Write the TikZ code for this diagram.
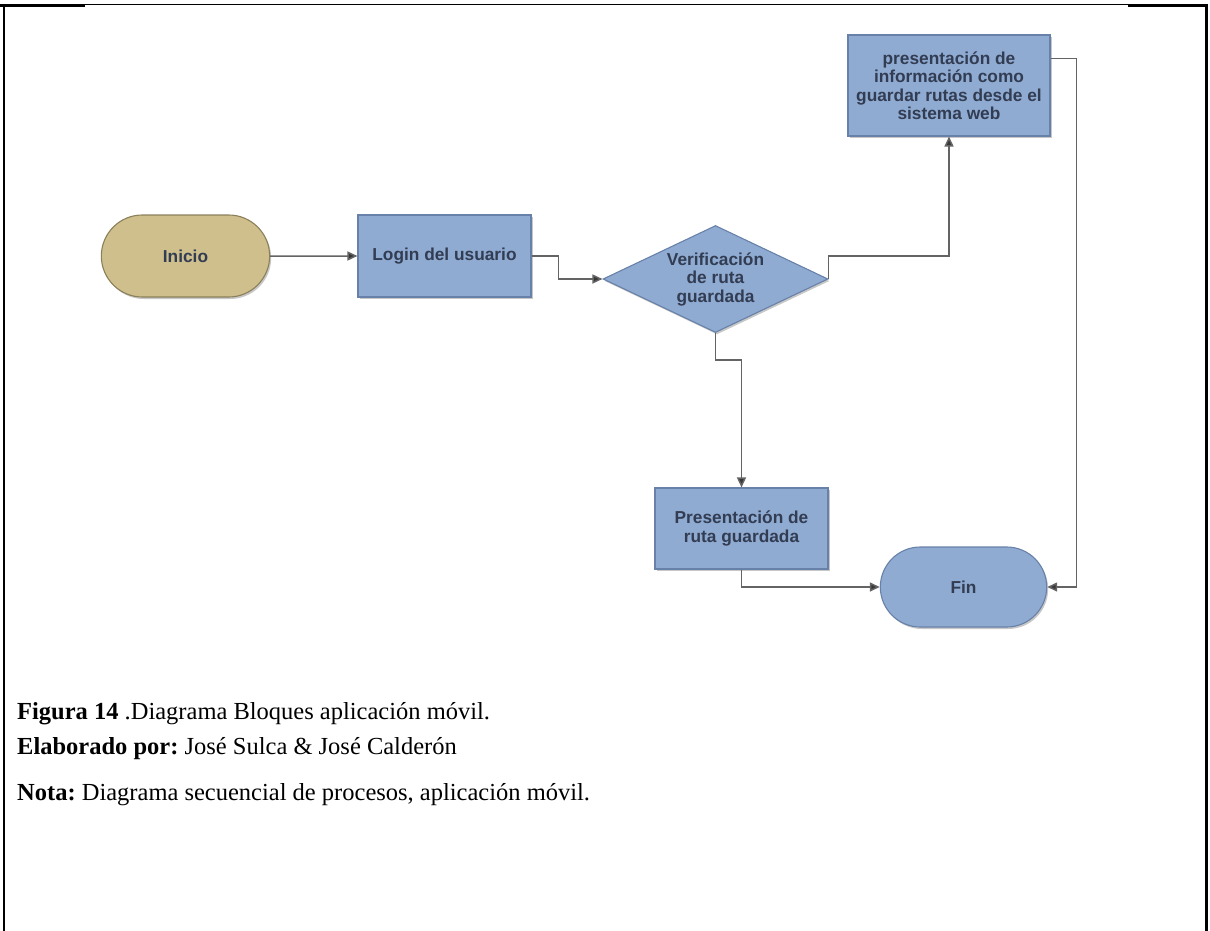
\documentclass[tikz,border=0pt]{standalone}
\usepackage{fontspec}
\setmainfont{Liberation Serif}
\newfontfamily\diagfont{Liberation Sans}
\usetikzlibrary{shapes.geometric,shapes.misc,arrows.meta,shadows,calc}

\definecolor{boxblue}{RGB}{143,171,210}
\definecolor{boxedge}{RGB}{104,129,168}
\definecolor{tanfill}{RGB}{207,191,140}
\definecolor{tanedge}{RGB}{140,128,90}
\definecolor{labeltext}{RGB}{50,60,82}
\definecolor{linkgray}{RGB}{100,100,100}
\definecolor{tipgray}{RGB}{55,55,55}

\tikzset{
  x=1pt, y=-1pt,
  softshadow/.style={drop shadow={shadow xshift=1.5pt, shadow yshift=-2pt, fill=black, opacity=0.22}},
  shapetext/.style={text=labeltext, align=center,
    font=\diagfont\bfseries\fontsize{17.3}{18.5}\selectfont},
  processbox/.style={rectangle, shapetext, fill=boxblue, draw=boxedge,
    line width=1.1pt, inner sep=2pt, softshadow},
  terminalblue/.style={rounded rectangle, shapetext, fill=boxblue, draw=boxedge,
    line width=1.1pt, minimum width=173pt, minimum height=80pt, softshadow},
  terminaltan/.style={rounded rectangle, shapetext, fill=tanfill, draw=tanedge,
    line width=1.1pt, minimum width=175pt, minimum height=82pt, softshadow},
  decision/.style={diamond, shapetext, fill=boxblue, draw=boxedge,
    line width=1.1pt, aspect=2.1, inner sep=0pt,
    minimum width=225pt, minimum height=107pt, softshadow},
  link/.style={draw=linkgray, line width=1.5pt,
    -{Triangle[length=10pt,width=9pt,fill=tipgray]}},
  caption/.style={anchor=base west, inner sep=0pt,
    font=\frenchspacing\fontsize{24.5}{28}\selectfont},
  frameline/.style={draw=black}
}

\begin{document}
\begin{tikzpicture}
\useasboundingbox (0,0) rectangle (1210,931);
\fill[white] (0,0) rectangle (1210,931);

% page frame
\draw[frameline, line width=3pt] (0,5.5) -- (85,5.5);
\draw[frameline, line width=1pt] (85,5) -- (1128,5);
\draw[frameline, line width=3pt] (1128,5.5) -- (1208,5.5);
\draw[frameline, line width=2pt] (3.7,4) -- (3.7,931);
\draw[frameline, line width=3pt] (1206.5,4) -- (1206.5,931);

% flow blocks
\node[terminaltan] (ini) at (185.5,256) {Inicio};
\node[processbox, minimum width=173pt, minimum height=82pt] (login) at (444.5,256) {Login del usuario};
\node[decision] (ver) at (715.5,279) {Verificación\\de ruta\\guardada};
\node[processbox, minimum width=202pt, minimum height=101pt] (info) at (949,85.5)
  {presentación de\\información como\\guardar rutas desde el\\sistema web};
\node[processbox, minimum width=173pt, minimum height=81pt] (pres) at (741.5,528.5)
  {Presentación de\\ruta guardada};
\node[terminalblue] (fin) at (963.5,587) {Fin};

% connectors
\draw[link] (ini) -- (login);
\draw[link] (login.east) -- ++(27,0) |- (ver.west);
\draw[link] (ver.east) -- ++(0,-23) -| (info.south);
\draw[link] (ver.south) -- ++(0,27) -| (pres.north);
\coordinate (infoout) at ($(info.east)+(0,-27)$);
\draw[link] (infoout) -- ++(26,0) |- (fin.east);
\draw[link] (pres.south) |- (fin.west);

% caption lines
\node[caption] (cap1) at (17,719) {\textbf{Figura 14} .Diagrama Bloques aplicación móvil.};
\node[caption] (cap2) at (17,754) {\textbf{Elaborado por:} José Sulca \& José Calderón};
\node[caption] (cap3) at (17,800) {\textbf{Nota:} Diagrama secuencial de procesos, aplicación móvil.};
\end{tikzpicture}
\end{document}
